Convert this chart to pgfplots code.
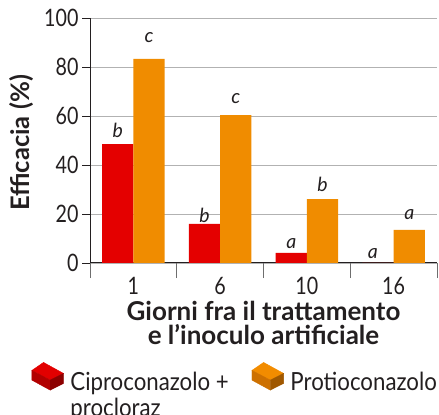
\documentclass[border=0pt]{standalone}
\usepackage{fontspec}
\setmainfont{Lato}
\newfontfamily\condA{Lato}[FakeStretch=0.82]
\newfontfamily\condB{Lato}[FakeStretch=0.89]
\usepackage{pgfplots}
\usepackage{pgfplotstable}
\pgfplotsset{compat=1.18}
\definecolor{cred}{RGB}{228,0,0}
\definecolor{corange}{RGB}{240,140,0}
\definecolor{txt}{RGB}{35,31,32}
\definecolor{gridc}{RGB}{178,178,178}
\definecolor{tickc}{RGB}{110,110,110}
\definecolor{redtop}{RGB}{226,0,0}
\definecolor{redfront}{RGB}{178,0,0}
\definecolor{redside}{RGB}{140,0,0}
\definecolor{ortop}{RGB}{242,140,0}
\definecolor{orfront}{RGB}{205,112,0}
\definecolor{orside}{RGB}{160,88,0}
\pgfplotsset{layers/mylayers/.define layer set={axis background,axis grid,main,axis ticks,axis lines,axis tick labels,axis descriptions,axis foreground}{}}

\pgfplotstableread{
x red orange
0 48.5 83.3
1 16.0 60.4
2 4.1 26.1
3 0 13.5
}\bars

\pgfplotstableread{
x y lab
-0.18 51.4 b
0.18 90.2 c
0.82 16.7 b
1.18 65.3 c
1.82 6.1 a
2.18 29.0 b
2.76 2.0 a
3.18 17.6 a
}\labs

\begin{document}
\begin{tikzpicture}
\begin{axis}[
  set layers=mylayers,
  at={(90bp,152bp)}, anchor=south west,
  width=347bp, height=245bp, scale only axis,
  xmin=-0.5, xmax=3.5, ymin=0, ymax=100,
  axis x line*=bottom, axis y line*=left,
  axis line style={-, txt, line width=1bp},
  xtick={0,1,2,3}, xticklabels={1,6,10,16},
  minor xtick={-0.5,0.5,1.5,2.5,3.5},
  ytick={0,20,40,60,80,100},
  tick align=outside,
  major tick length=8bp, minor tick length=15bp,
  major x tick style={draw=none},
  minor x tick style={tickc, line width=0.9bp},
  y tick style={txt, line width=0.8bp},
  ymajorgrids, grid style={gridc, line width=0.9bp},
  tick label style={font=\condA\fontsize{24bp}{24bp}\selectfont, text=txt},
  /pgf/number format/assume math mode=true,
  xticklabel style={yshift=-2.5bp},
  xlabel={Giorni fra il trattamento\\e l’inoculo artificiale},
  xlabel style={at={(axis description cs:0.5,-0.157)}, anchor=north, align=center,
    font=\bfseries\fontsize{26bp}{24bp}\selectfont, inner sep=0pt, text=txt},
  ylabel={Efficacia (\%)},
  ylabel style={at={(axis description cs:-0.196,0.49)}, anchor=center,
    font=\bfseries\fontsize{25.5bp}{24bp}\selectfont, inner sep=0pt, text=txt},
  legend style={at={(axis description cs:-0.168,-0.405)}, anchor=north west,
    draw=none, fill=none, inner sep=0pt, outer sep=0pt,
    font=\condB\fontsize{25bp}{23bp}\selectfont, text=txt,
    nodes={inner sep=0pt},
    column sep=6.7bp,
    /tikz/every even column/.append style={column sep=23bp}},
  legend columns=2,
  legend cell align=left,
  clip=false,
]
\addplot[ybar, bar width=0.36, bar shift=-0.18, fill=cred, draw=none, forget plot] table[x=x,y=red]{\bars};
\addplot[ybar, bar width=0.36, bar shift=0.18, fill=corange, draw=none, forget plot] table[x=x,y=orange]{\bars};
\addplot[only marks, mark=none, forget plot, nodes near coords, point meta=explicit symbolic,
  nodes near coords style={anchor=base, inner sep=0pt, text=txt, font=\itshape\fontsize{19.5bp}{19bp}\selectfont}]
  table[x=x,y=y,meta=lab]{\labs};

\addlegendimage{legend image code/.code={
  \fill[redtop] (0bp,12bp)--(11.6bp,20bp)--(31.6bp,9bp)--(18.3bp,2.3bp)--cycle;
  \fill[redfront] (0bp,12bp)--(18.3bp,2.3bp)--(18.3bp,-7.7bp)--(0bp,2.3bp)--cycle;
  \fill[redside] (18.3bp,2.3bp)--(31.6bp,9bp)--(31.6bp,-1bp)--(18.3bp,-7.7bp)--cycle;
}}
\addlegendentry{\begin{tabular}[t]{@{}l@{}}Ciproconazolo +\\procloraz\end{tabular}}
\addlegendimage{legend image code/.code={
  \fill[ortop] (0bp,12bp)--(11.6bp,20bp)--(31.6bp,9bp)--(18.3bp,2.3bp)--cycle;
  \fill[orfront] (0bp,12bp)--(18.3bp,2.3bp)--(18.3bp,-7.7bp)--(0bp,2.3bp)--cycle;
  \fill[orside] (18.3bp,2.3bp)--(31.6bp,9bp)--(31.6bp,-1bp)--(18.3bp,-7.7bp)--cycle;
}}
\addlegendentry{Protioconazolo}
\end{axis}
\pgfresetboundingbox
\useasboundingbox (0bp,0bp) rectangle (439bp,415bp);
\end{tikzpicture}
\end{document}
